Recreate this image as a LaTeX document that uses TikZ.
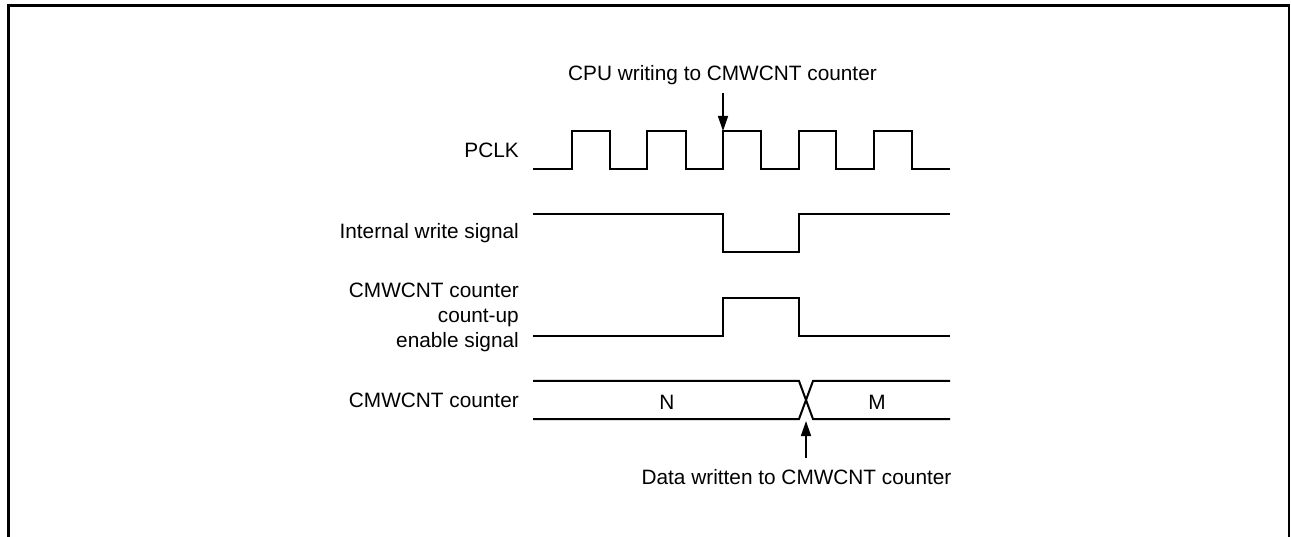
\documentclass[tikz,border=0pt]{standalone}
\usepackage{fontspec}
\setmainfont{Liberation Sans}
\usetikzlibrary{arrows.meta}
\begin{document}
\begin{tikzpicture}[x=1pt,y=-1pt,
  txt/.style={inner sep=0pt,font=\fontsize{20.8}{25}\selectfont},
  lbl/.style={txt,anchor=east,align=right},
  wave/.style={line width=2pt,line join=miter},
  arr/.style={line width=1.5pt,-{Triangle[length=15pt,width=10pt]}}]
\useasboundingbox (0,0) rectangle (1291,537);
% frame
\draw[line width=3pt] (8.5,537) -- (8.5,6) -- (1288,6);
\draw[line width=2pt] (1288.5,4.5) -- (1288.5,537);
% labels
\node[lbl] (lpclk) at (519,150) {PCLK};
\node[lbl] (lwr) at (519,233) {Internal write signal};
\node[lbl] (len) at (519,317) {CMWCNT counter\\count-up\\enable signal};
\node[lbl] (lcnt) at (519,400) {CMWCNT counter};
% PCLK
\draw[wave] (533,169) -- (571.7,169) -- (571.7,131) -- (609.5,131) -- (609.5,169)
  -- (647.3,169) -- (647.3,131) -- (685.5,131) -- (685.5,169)
  -- (723,169) -- (723,131) -- (760.7,131) -- (760.7,169)
  -- (798.7,169) -- (798.7,131) -- (836.3,131) -- (836.3,169)
  -- (874,169) -- (874,131) -- (911.7,131) -- (911.7,169) -- (950,169);
% internal write
\draw[wave] (533,214.3) -- (723,214.3) -- (723,252) -- (798.5,252) -- (798.5,214.3) -- (950,214.3);
% enable
\draw[wave] (533,335.7) -- (723,335.7) -- (723,297.7) -- (798.7,297.7) -- (798.7,335.7) -- (950,335.7);
% counter bus
\draw[wave] (533,381) -- (799,381) -- (813,419) -- (950,419);
\draw[wave] (533,419) -- (799,419) -- (813,381) -- (950,381);
\node[txt] (vn) at (667,402) {N};
\node[txt] (vm) at (877,402) {M};
% annotations
\node[txt] (cpu) at (722.5,75) {CPU writing to CMWCNT counter};
\coordinate (a1s) at (723,93);
\coordinate (a1e) at (723,131);
\draw[arr] (a1s) -- (a1e);
\node[txt] (dw) at (796.5,477) {Data written to CMWCNT counter};
\coordinate (a2s) at (806,458);
\coordinate (a2e) at (806,421);
\draw[arr] (a2s) -- (a2e);
\end{tikzpicture}
\end{document}
